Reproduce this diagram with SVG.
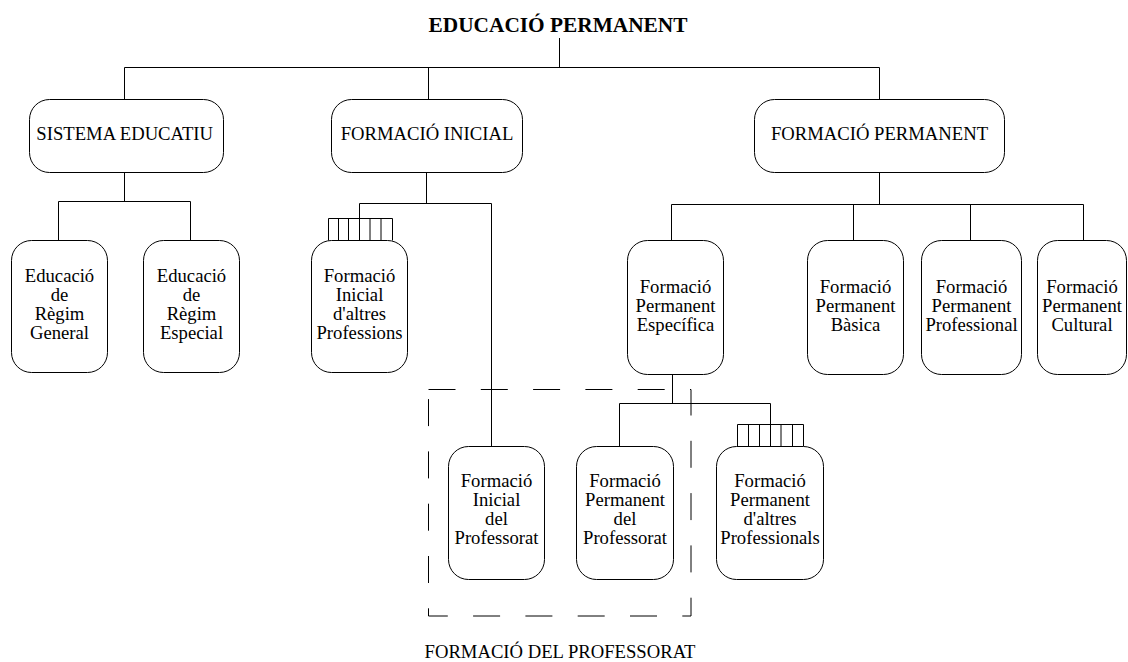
<svg xmlns="http://www.w3.org/2000/svg" width="1128" height="662" viewBox="0 0 1128 662">
  <style>
    text { font-family: "Liberation Serif", "Times New Roman", serif; font-size: 18.67px; fill: #000; text-anchor: middle; }
    .title { font-weight: bold; font-size: 21.33px; }
    .box { fill: #fff; stroke: #000; stroke-width: 1; }
    .wire { fill: none; stroke: #000; stroke-width: 1; }
    .group { fill: none; stroke: #000; stroke-width: 1; stroke-dasharray: 27 25.3; }
  </style>
  <rect width="1128" height="662" fill="#fff"/>

  <!-- title -->
  <text class="title" x="558" y="32">EDUCACIÓ PERMANENT</text>

  <!-- dashed grouping frame -->
  <rect class="group" x="428.5" y="389.5" width="262.5" height="226.5"/>

  <g id="connectors">
    <!-- root level -->
    <path class="wire" d="M559.5 38V67.5 M124.5 99.5V67.5H879.5V99.5 M428.5 67.5V99.5"/>
    <!-- SISTEMA EDUCATIU -->
    <path class="wire" d="M124.5 172.5V201.5 M58.5 240.5V201.5H190.5V240.5"/>
    <!-- FORMACIÓ INICIAL -->
    <path class="wire" d="M426.5 172.5V203.5 M359.5 240.5V203.5H491.5V446.5"/>
    <!-- FORMACIÓ PERMANENT -->
    <path class="wire" d="M879.5 172.5V204.5 M671.5 240.5V204.5H1083.5V240.5 M853.5 204.5V240.5 M970.5 204.5V240.5"/>
    <!-- Formació Permanent Específica -->
    <path class="wire" d="M672.5 374.5V403.5 M619.5 446.5V403.5H770.5V446.5"/>
    <!-- multiple-instance combs -->
    <path class="wire" d="M328.5 240.5V218.5H392.5V240.5 M338.5 218.5V240.5 M348.5 218.5V240.5 M370 218.5V240.5 M381 218.5V240.5"/>
    <path class="wire" d="M737.5 446.5V424.5H803.5V446.5 M748.5 424.5V446.5 M759.5 424.5V446.5 M781 424.5V446.5 M792.5 424.5V446.5"/>
  </g>

  <g id="sistema-educatiu">
    <rect class="box" x="29.5" y="99.5" width="194" height="73" rx="20"/>
    <text x="124.7" y="140">SISTEMA EDUCATIU</text>
  </g>
  <g id="formacio-inicial">
    <rect class="box" x="331.5" y="99.5" width="191" height="73" rx="20"/>
    <text x="427" y="140">FORMACIÓ INICIAL</text>
  </g>
  <g id="formacio-permanent">
    <rect class="box" x="754.5" y="99.5" width="250" height="73" rx="20"/>
    <text x="879.5" y="140">FORMACIÓ PERMANENT</text>
  </g>

  <g id="regim-general">
    <rect class="box" x="11.5" y="240.5" width="96" height="132" rx="20"/>
    <text x="59.5" y="281.5">Educació</text>
    <text x="59.5" y="300.5">de</text>
    <text x="59.5" y="319.5">Règim</text>
    <text x="59.5" y="338.5">General</text>
  </g>
  <g id="regim-especial">
    <rect class="box" x="143.5" y="240.5" width="96" height="132" rx="20"/>
    <text x="191.5" y="281.5">Educació</text>
    <text x="191.5" y="300.5">de</text>
    <text x="191.5" y="319.5">Règim</text>
    <text x="191.5" y="338.5">Especial</text>
  </g>
  <g id="inicial-altres">
    <rect class="box" x="311.5" y="240.5" width="96" height="132" rx="20"/>
    <text x="359.5" y="281.5">Formació</text>
    <text x="359.5" y="300.5">Inicial</text>
    <text x="359.5" y="319.5">d'altres</text>
    <text x="359.5" y="338.5">Professions</text>
  </g>

  <g id="permanent-especifica">
    <rect class="box" x="627.5" y="240.5" width="96" height="134" rx="20"/>
    <text x="675.5" y="293">Formació</text>
    <text x="675.5" y="312">Permanent</text>
    <text x="675.5" y="331">Específica</text>
  </g>
  <g id="permanent-basica">
    <rect class="box" x="807.5" y="240.5" width="96" height="134" rx="20"/>
    <text x="855.5" y="293">Formació</text>
    <text x="855.5" y="312">Permanent</text>
    <text x="855.5" y="331">Bàsica</text>
  </g>
  <g id="permanent-professional">
    <rect class="box" x="921.5" y="240.5" width="100" height="134" rx="20"/>
    <text x="971.5" y="293">Formació</text>
    <text x="971.5" y="312">Permanent</text>
    <text x="971.5" y="331">Professional</text>
  </g>
  <g id="permanent-cultural">
    <rect class="box" x="1037.5" y="240.5" width="89" height="134" rx="20"/>
    <text x="1082" y="293">Formació</text>
    <text x="1082" y="312">Permanent</text>
    <text x="1082" y="331">Cultural</text>
  </g>

  <g id="inicial-professorat">
    <rect class="box" x="448.5" y="446.5" width="96" height="133" rx="20"/>
    <text x="496.5" y="487">Formació</text>
    <text x="496.5" y="506">Inicial</text>
    <text x="496.5" y="525">del</text>
    <text x="496.5" y="544">Professorat</text>
  </g>
  <g id="permanent-professorat">
    <rect class="box" x="576.5" y="446.5" width="97" height="133" rx="20"/>
    <text x="625" y="487">Formació</text>
    <text x="625" y="506">Permanent</text>
    <text x="625" y="525">del</text>
    <text x="625" y="544">Professorat</text>
  </g>
  <g id="permanent-altres">
    <rect class="box" x="716.5" y="446.5" width="107" height="133" rx="20"/>
    <text x="770" y="487">Formació</text>
    <text x="770" y="506">Permanent</text>
    <text x="770" y="525">d'altres</text>
    <text x="770" y="544">Professionals</text>
  </g>

  <!-- frame caption -->
  <text x="560" y="657.5">FORMACIÓ DEL PROFESSORAT</text>
</svg>
